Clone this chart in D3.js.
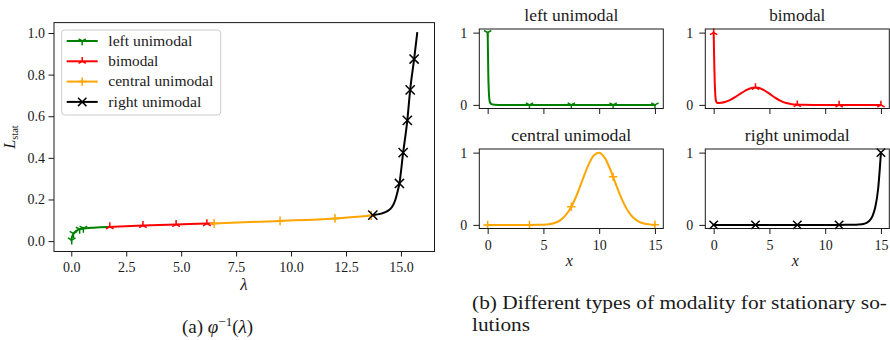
<!DOCTYPE html>
<html><head><meta charset="utf-8">
<script src="https://cdn.jsdelivr.net/npm/d3@7"></script>
<style>
body{margin:0;background:#fff}
</style>
</head><body>
<svg id="c" width="890" height="340"></svg>
<script>
// ---------- data: panel (a) ----------
const lamTicks = [0, 2.5, 5, 7.5, 10, 12.5, 15];
const lamTickLabels = ["0.0","2.5","5.0","7.5","10.0","12.5","15.0"];
const lTicks = [0, 0.2, 0.4, 0.6, 0.8, 1.0];
const lTickLabels = ["0.0","0.2","0.4","0.6","0.8","1.0"];

const categories = ["left unimodal", "bimodal", "central unimodal", "right unimodal"];
const colors = ["green", "red", "orange", "black"];
const markerTypes = ["tri_down", "tri_up", "plus", "x"];

const greenLam = [0.0, 0.03, 0.1, 0.25, 0.38, 0.55, 0.9, 1.3, 1.7];
const greenL   = [0.005, 0.02, 0.036, 0.051, 0.057, 0.061, 0.064, 0.066, 0.068];
const greenMarkLam = [0.02, 0.1, 0.38, 0.55];
const greenMarkL   = [0.005, 0.036, 0.057, 0.061];

const redLam = [1.7, 3.26, 4.77, 6.17, 6.45];
const redL   = [0.068, 0.075, 0.080, 0.084, 0.085];
const redMarkLam = [1.75, 3.26, 4.77, 6.17];
const redMarkL   = [0.069, 0.075, 0.080, 0.084];

const orangeLam = [6.45, 9.5, 12.0, 13.7];
const orangeL   = [0.085, 0.097, 0.109, 0.123];
const orangeMarkLam = [6.5, 9.5, 12.0, 13.65];
const orangeMarkL   = [0.085, 0.097, 0.109, 0.123];

const blackLam = [13.72, 14.1, 14.4, 14.6, 14.75, 14.85, 14.93, 15.1, 15.29, 15.42, 15.6, 15.74];
const blackL   = [0.125, 0.132, 0.145, 0.165, 0.2, 0.24, 0.277, 0.425, 0.58, 0.727, 0.875, 1.0];
const blackMarkLam = [13.72, 14.93, 15.1, 15.29, 15.42, 15.6];
const blackMarkL   = [0.125, 0.277, 0.425, 0.58, 0.727, 0.875];

// ---------- data: panel (b) ----------
const xTicks = [0, 5, 10, 15];
const yTicks = [0, 1];
const markX = [0, 3.75, 7.5, 11.25, 15];

const leftX = [0, 0.03, 0.06, 0.1, 0.15, 0.22, 0.35, 0.6, 1, 3.75, 7.5, 11.25, 15];
const leftY = [1, 0.7, 0.4, 0.2, 0.08, 0.03, 0.01, 0.002, 0, 0, 0, 0, 0];
const leftMarkY = [1, 0, 0, 0, 0];

const biX = [0, 0.05, 0.1, 0.15, 0.2, 0.3, 0.45, 0.7, 1, 1.5, 2, 2.5, 3, 3.5, 3.75, 4, 4.5, 5, 5.5, 6, 6.5, 7, 7.5, 8, 9, 11.25, 15];
const biY = [1, 0.6, 0.3, 0.13, 0.06, 0.03, 0.025, 0.03, 0.04, 0.07, 0.115, 0.165, 0.21, 0.237, 0.242, 0.237, 0.205, 0.155, 0.1, 0.055, 0.025, 0.01, 0.004, 0.001, 0, 0, 0];
const biMarkY = [1, 0.242, 0.004, 0, 0];

const centX = [0, 3.75, 4.5, 5, 5.5, 6, 6.5, 7, 7.5, 8, 8.5, 9, 9.5, 10, 10.5, 11, 11.25, 11.5, 12, 12.5, 13, 13.5, 14, 14.5, 15];
const centY = [0, 0, 0.001, 0.003, 0.01, 0.027, 0.063, 0.134, 0.25, 0.417, 0.62, 0.816, 0.958, 0.999, 0.927, 0.764, 0.665, 0.561, 0.366, 0.212, 0.11, 0.05, 0.02, 0.007, 0.002];
const centMarkY = [0, 0, 0.25, 0.665, 0.002];

const rightX = [0, 3.75, 7.5, 11.25, 12.5, 13, 13.5, 13.75, 14, 14.25, 14.5, 14.75, 15];
const rightY = [0, 0, 0, 0, 0.001, 0.004, 0.016, 0.031, 0.063, 0.125, 0.25, 0.5, 1.0];
const rightMarkY = [0, 0, 0, 0, 1];

// ---------- helpers ----------
const FONT = '"Liberation Serif"';
const INK = "#1a1a1a";
const svg = d3.select("#c");
const zip = (a, b) => a.map((v, i) => [v, b[i]]);

function markerPath(type, r) {
  const c = 0.866 * r, h = 0.5 * r;
  switch (type) {
    case "x": return `M${-r},${-r}L${r},${r}M${-r},${r}L${r},${-r}`;
    case "plus": return `M${-r},0L${r},0M0,${-r}L0,${r}`;
    case "tri_down": return `M0,0L0,${r}M0,0L${-c},${-h}M0,0L${c},${-h}`;
    case "tri_up": return `M0,0L0,${-r}M0,0L${-c},${h}M0,0L${c},${h}`;
  }
}

function drawSeries(g, x, y, pts, marks, color, mtype, r) {
  g.append("path")
    .attr("d", d3.line().x(d => x(d[0])).y(d => y(d[1])).curve(d3.curveMonotoneX)(pts))
    .attr("fill", "none").attr("stroke", color).attr("stroke-width", 2)
    .attr("stroke-linejoin", "round").attr("stroke-linecap", "square");
  g.selectAll(null).data(marks).join("path")
    .attr("transform", d => `translate(${x(d[0])},${y(d[1])})`)
    .attr("d", markerPath(mtype, r))
    .attr("fill", "none").attr("stroke", color).attr("stroke-width", 1.5);
}

function styleAxis(g, fs) {
  g.attr("font-family", FONT).attr("font-size", fs);
  g.select(".domain").remove();
  g.selectAll(".tick line").attr("stroke", INK).attr("stroke-width", 1);
  g.selectAll(".tick text").attr("fill", INK).attr("font-family", FONT).attr("font-size", fs);
}

function frame(g, x0, y0, x1, y1) {
  g.append("rect").attr("x", x0).attr("y", y0).attr("width", x1 - x0).attr("height", y1 - y0)
    .attr("fill", "none").attr("stroke", INK).attr("stroke-width", 1);
}

function txt(g, x, y, s, fs, w) {
  const t = g.append("text").attr("x", x).attr("y", y).attr("font-family", FONT)
    .attr("font-size", fs).attr("fill", INK).text(s);
  if (w) t.attr("textLength", w).attr("lengthAdjust", "spacingAndGlyphs");
  return t;
}

// ---------- panel (a) ----------
const A = { x0: 54, x1: 434.5, y0: 22.6, y1: 251.5 };
const xa = d3.scaleLinear().domain([-0.787, 16.527]).range([A.x0, A.x1]);
const ya = d3.scaleLinear().domain([-0.05, 1.05]).range([A.y1, A.y0]);
const ga = svg.append("g");

const gax = ga.append("g").attr("transform", `translate(0,${A.y1})`)
  .call(d3.axisBottom(xa).tickValues(lamTicks).tickFormat((d, i) => lamTickLabels[i]).tickSize(5).tickPadding(5.5));
styleAxis(gax, 14);
const gay = ga.append("g").attr("transform", `translate(${A.x0},0)`)
  .call(d3.axisLeft(ya).tickValues(lTicks).tickFormat((d, i) => lTickLabels[i]).tickSize(5.5).tickPadding(3.5));
styleAxis(gay, 14);

const seriesA = [
  [zip(greenLam, greenL), zip(greenMarkLam, greenMarkL)],
  [zip(redLam, redL), zip(redMarkLam, redMarkL)],
  [zip(orangeLam, orangeL), zip(orangeMarkLam, orangeMarkL)],
  [zip(blackLam, blackL), zip(blackMarkLam, blackMarkL)]
];
seriesA.forEach((s, i) => drawSeries(ga, xa, ya, s[0], s[1], colors[i], markerTypes[i], i === 3 ? 4.6 : 4.4));
frame(ga, A.x0, A.y0, A.x1, A.y1);

// legend
const lg = ga.append("g");
lg.append("rect").attr("x", 61.7).attr("y", 30).attr("width", 159).attr("height", 85).attr("rx", 3)
  .attr("fill", "white").attr("fill-opacity", 0.85).attr("stroke", "#cccccc").attr("stroke-width", 1);
const legY = [41, 61.3, 81.6, 101.9];
const legW = [84, 50, 105, 93];
categories.forEach((c, i) => {
  lg.append("line").attr("x1", 66.7).attr("x2", 97.7).attr("y1", legY[i]).attr("y2", legY[i])
    .attr("stroke", colors[i]).attr("stroke-width", 2);
  lg.append("path").attr("transform", `translate(82.2,${legY[i]})`).attr("d", markerPath(markerTypes[i], 4.2))
    .attr("fill", "none").attr("stroke", colors[i]).attr("stroke-width", 1.5);
  txt(lg, 108.3, legY[i] + 4.8, c, 15, legW[i]);
});

// axis labels
txt(ga, 244, 290, "λ", 17).attr("text-anchor", "middle").attr("font-style", "italic");
const yl = ga.append("text").attr("transform", "translate(15,137) rotate(-90)").attr("text-anchor", "middle")
  .attr("font-family", FONT).attr("fill", INK);
yl.append("tspan").attr("font-style", "italic").attr("font-size", 16).text("L");
yl.append("tspan").attr("font-size", 10.5).attr("dy", 3).text("stat");

// caption (a)
const capA = svg.append("text").attr("x", 217.5).attr("y", 333).attr("text-anchor", "middle")
  .attr("font-size", 19).attr("font-family", FONT).attr("fill", INK);
capA.append("tspan").text("(a) ");
capA.append("tspan").attr("font-style", "italic").text("φ");
capA.append("tspan").attr("font-size", 13).attr("dy", -7.5).text("−1");
capA.append("tspan").attr("dy", 7.5).text("(");
capA.append("tspan").attr("font-style", "italic").text("λ");
capA.append("tspan").text(")");

// ---------- panel (b) ----------
const subplots = [
  { title: "left unimodal", tw: 94, x0: 479.3, y0: 29, X: leftX, Y: leftY, MY: leftMarkY, c: 0, xl: false },
  { title: "bimodal", tw: 56, x0: 705.3, y0: 29, X: biX, Y: biY, MY: biMarkY, c: 1, xl: false },
  { title: "central unimodal", tw: 120, x0: 479.3, y0: 149, X: centX, Y: centY, MY: centMarkY, c: 2, xl: true },
  { title: "right unimodal", tw: 105, x0: 705.3, y0: 149, X: rightX, Y: rightY, MY: rightMarkY, c: 3, xl: true }
];
const W = 184, H = 79.5;
subplots.forEach(sp => {
  const g = svg.append("g");
  const x = d3.scaleLinear().domain([-0.75, 15.75]).range([sp.x0, sp.x0 + W]);
  const y = d3.scaleLinear().domain([-0.05, 1.05]).range([sp.y0 + H, sp.y0]);
  const gx = g.append("g").attr("transform", `translate(0,${sp.y0 + H})`)
    .call(d3.axisBottom(x).tickValues(xTicks).tickFormat(sp.xl ? d3.format("d") : "").tickSize(5.5).tickPadding(6));
  styleAxis(gx, 14);
  const gy = g.append("g").attr("transform", `translate(${sp.x0},0)`)
    .call(d3.axisLeft(y).tickValues(yTicks).tickFormat(d3.format("d")).tickSize(6).tickPadding(6));
  styleAxis(gy, 14);
  drawSeries(g, x, y, zip(sp.X, sp.Y), zip(markX, sp.MY), colors[sp.c], markerTypes[sp.c], 4.2);
  frame(g, sp.x0, sp.y0, sp.x0 + W, sp.y0 + H);
  txt(g, sp.x0 + W / 2, sp.y0 - 8.5, sp.title, 17, sp.tw).attr("text-anchor", "middle");
  if (sp.xl) {
    txt(g, sp.x0 + W / 2 - 2, sp.y0 + H + 37, "x", 16).attr("text-anchor", "middle").attr("font-style", "italic");
  }
});

// caption (b)
txt(svg, 472, 309, "(b) Different types of modality for stationary so-", 18, 415);
txt(svg, 472, 330.5, "lutions", 18, 58);
</script>
</body></html>
